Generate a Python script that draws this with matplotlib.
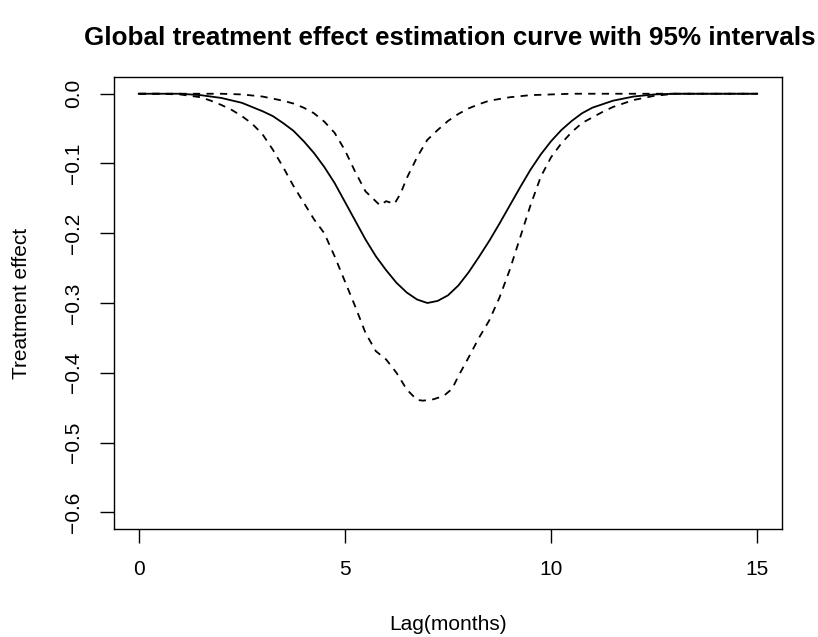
import matplotlib
matplotlib.use("Agg")
import matplotlib.pyplot as plt

plt.rcParams['font.family'] = ['Liberation Sans', 'DejaVu Sans']

# ---- data ----
lag_est = [0, 0.5, 1.0, 1.5, 2.0, 2.5, 3.0, 3.25, 3.5, 3.75, 4.0, 4.25, 4.5, 4.75,
           5.0, 5.25, 5.5, 5.75, 6.0, 6.25, 6.5, 6.75, 7.0, 7.25, 7.5, 7.75,
           8.0, 8.25, 8.5, 8.75, 9.0, 9.25, 9.5, 9.75, 10.0, 10.25, 10.5, 10.75,
           11.0, 11.5, 12.0, 12.5, 13.0, 13.5, 14.0, 14.5, 15.0]
effect_est = [0, 0, 0, -0.002, -0.006, -0.013, -0.025, -0.032, -0.042, -0.053,
              -0.068, -0.085, -0.105, -0.128, -0.155, -0.182, -0.209, -0.233,
              -0.253, -0.271, -0.285, -0.295, -0.300, -0.297, -0.289, -0.275,
              -0.256, -0.234, -0.211, -0.186, -0.160, -0.134, -0.109, -0.087,
              -0.068, -0.052, -0.039, -0.028, -0.020, -0.010, -0.004, -0.001,
              0, 0, 0, 0, 0]

lag_upper = [0, 0.5, 1.0, 1.5, 2.0, 2.5, 3.0, 3.5, 3.75, 4.0, 4.25, 4.5, 4.75,
             5.0, 5.25, 5.5, 5.85, 6.0, 6.2, 6.35, 6.5, 6.75, 7.0, 7.25, 7.5,
             7.75, 8.0, 8.25, 8.5, 9.0, 9.5, 10.0, 10.5, 11.0, 12.0, 13.0, 14.0, 15.0]
effect_upper = [0, 0, 0, 0, 0, -0.001, -0.004, -0.010, -0.014, -0.020, -0.028,
                -0.040, -0.056, -0.081, -0.112, -0.140, -0.160, -0.154, -0.158,
                -0.143, -0.121, -0.091, -0.066, -0.052, -0.039, -0.029, -0.021,
                -0.015, -0.010, -0.005, -0.002, -0.001, 0, 0, 0, 0, 0, 0]

lag_lower = [0, 0.5, 1.0, 1.5, 1.75, 2.0, 2.25, 2.5, 2.75, 3.0, 3.25, 3.5, 3.75,
             4.0, 4.25, 4.5, 4.75, 5.0, 5.25, 5.5, 5.75, 6.0, 6.25, 6.5, 6.75,
             6.9, 7.15, 7.4, 7.6, 7.75, 8.0, 8.25, 8.5, 8.75, 9.0, 9.25, 9.5, 9.75,
             10.0, 10.25, 10.5, 10.75, 11.0, 11.25, 11.5, 12.0, 12.5, 13.0, 14.0, 15.0]
effect_lower = [0, 0, -0.001, -0.005, -0.010, -0.016, -0.023, -0.032, -0.043,
                -0.058, -0.080, -0.105, -0.132, -0.156, -0.180, -0.200, -0.233,
                -0.269, -0.305, -0.343, -0.369, -0.381, -0.400, -0.424, -0.439,
                -0.440, -0.438, -0.433, -0.423, -0.405, -0.378, -0.350, -0.325,
                -0.292, -0.252, -0.206, -0.160, -0.119, -0.091, -0.071, -0.055,
                -0.042, -0.034, -0.026, -0.019, -0.009, -0.003, 0, 0, 0]

x_ticks = [0, 5, 10, 15]
y_ticks = [0.0, -0.1, -0.2, -0.3, -0.4, -0.5, -0.6]
title = "Global treatment effect estimation curve with 95% intervals"
xlabel = "Lag(months)"
ylabel = "Treatment effect"

# ---- figure ----
fig = plt.figure(figsize=(8.18, 6.37), dpi=100)
ax = fig.add_axes([114 / 818, 1 - 529 / 637, (782 - 114) / 818, (529 - 77) / 637])

lw = 1.3
ax.plot(lag_est, effect_est, color='black', lw=lw, solid_joinstyle='round')
ax.plot(lag_upper, effect_upper, color='black', lw=lw, linestyle=(0, (4, 3.5)))
ax.plot(lag_lower, effect_lower, color='black', lw=lw, linestyle=(0, (4, 3.5)))

ax.set_xlim(-0.6, 15.6)
ax.set_ylim(-0.624, 0.024)
ax.set_xticks(x_ticks)
ax.set_xticklabels([str(t) for t in x_ticks])
ax.set_yticks(y_ticks)
ax.set_yticklabels([f"{t:.1f}".replace('-', '\u2212') for t in y_ticks],
                   rotation=90, va='center')

for s in ax.spines.values():
    s.set_linewidth(1.0)
ax.tick_params(direction='out', length=10, width=1.0, labelsize=15, pad=12)

ax.set_xlabel(xlabel, fontsize=15, labelpad=26)
ax.set_ylabel(ylabel, fontsize=15, labelpad=24)
fig.text(450 / 818, 1 - 38 / 637, title, ha='center', va='center',
         fontsize=18.7, fontweight='bold')

fig.savefig("out.png", dpi=100)
